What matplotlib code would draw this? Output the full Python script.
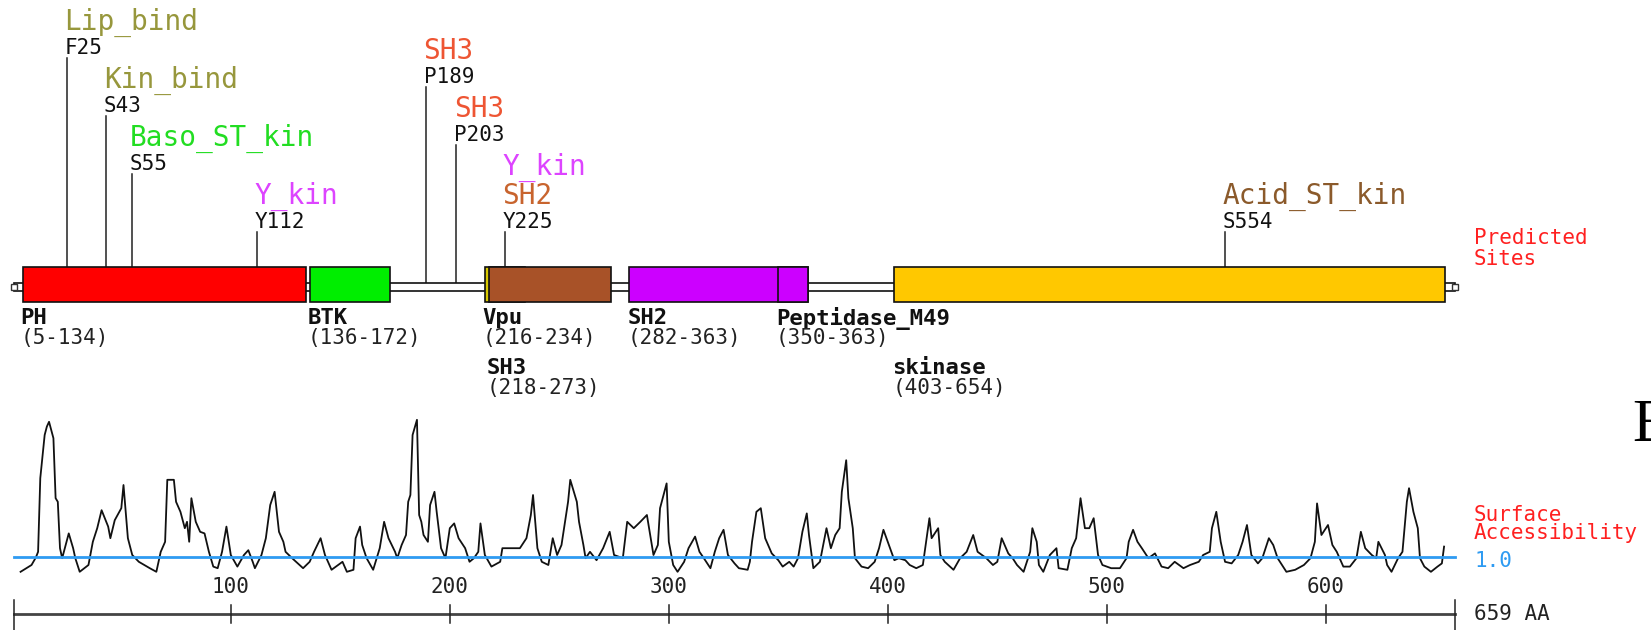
import matplotlib.pyplot as plt
from matplotlib.patches import Rectangle

plt.rcParams['font.family'] = ['DejaVu Sans Mono', 'DejaVu Sans']

PROT_LEN = 659

# domains (residue ranges)
dom_names = ["PH", "BTK", "Vpu", "SH3", "SH2", "Peptidase_M49", "skinase"]
dom_start = [5, 136, 216, 218, 282, 350, 403]
dom_end = [134, 172, 234, 273, 363, 363, 654]

# predicted motif sites
site_pos = [25, 43, 55, 112, 189, 203, 225, 554]
site_res = ["F25", "S43", "S55", "Y112", "P189", "P203", "Y225", "S554"]
site_groups = [["Lip_bind"], ["Kin_bind"], ["Baso_ST_kin"], ["Y_kin"],
               ["SH3"], ["SH3"], ["Y_kin", "SH2"], ["Acid_ST_kin"]]

# surface accessibility profile
acc_pos = [4, 9, 11, 12, 13, 15, 16, 17, 19, 20, 21, 22, 23, 25, 26, 28, 29, 31, 35, 37,
           39, 41, 44, 45, 47, 50, 51, 53, 55, 58, 63, 66, 68, 70, 71, 74, 75, 77, 79, 80,
           81, 82, 84, 86, 88, 90, 92, 94, 96, 98, 100, 103, 106, 108, 110, 111, 114, 116, 118, 120,
           122, 124, 125, 128, 133, 136, 138, 141, 143, 146, 149, 151, 153, 156, 157, 159, 160, 162, 165,
           168, 170, 172, 175, 176, 178, 180, 181, 182, 183, 185, 186, 187, 188, 190, 191, 193, 194, 196, 198,
           200, 202, 204, 207, 209, 211, 213, 214, 216, 219, 223, 224, 228, 232, 235, 237, 238, 240, 242, 245,
           247, 249, 251, 254, 255, 258, 259, 261, 262, 264, 267, 270, 273, 275, 279, 281, 284, 287, 290, 293,
           295, 296, 299, 300, 302, 304, 307, 309, 312, 314, 316, 319, 321, 323, 325, 327, 330, 332,
           336, 337, 338, 340, 342, 344, 346, 347, 350, 352, 355, 357, 359, 361, 363, 364, 366, 369, 372, 374,
           376, 378, 379, 381, 382, 384, 385, 388, 391, 394, 396, 398, 401, 403, 405, 408, 410, 413, 416, 419,
           420, 423, 424, 426, 430, 433, 436, 439, 441, 445, 448, 450, 452, 455, 457, 459, 462, 465, 466, 468,
           469, 471, 474, 477, 478, 482, 484, 486, 488, 490, 492, 494, 496, 498,
           502, 506, 509, 510, 512, 514, 516, 519, 522, 525, 528, 531, 535, 538, 542, 544, 547, 548, 550, 552,
           554, 557, 560, 562, 564, 566, 569, 571, 573, 574, 576, 578, 582, 586, 590, 593, 595, 596, 598, 601,
           603, 605, 608, 611, 614, 616, 618, 621, 623, 624, 627, 628, 630, 633, 635, 637, 638, 640, 642, 643,
           645, 648, 651, 653, 654]
acc_val = [0.63, 0.80, 0.99, 1.13, 2.97, 4.05, 4.26, 4.38, 3.97, 2.47, 2.38, 1.22, 0.97, 1.38, 1.59, 1.22, 0.97, 0.63, 0.80, 1.38,
           1.72, 2.17, 1.76, 1.47, 1.92, 2.22, 2.80, 1.47, 1.05, 0.88, 0.72, 0.63, 1.13, 1.38, 2.93, 2.93, 2.38, 2.13, 1.72, 1.88,
           1.38, 2.47, 1.88, 1.63, 1.59, 1.13, 0.76, 0.72, 1.13, 1.76, 1.05, 0.76, 1.05, 1.17, 0.88, 0.72, 1.05, 1.47, 2.30, 2.63,
           1.63, 1.38, 1.13, 0.97, 0.72, 0.88, 1.13, 1.47, 1.05, 0.68, 0.80, 0.88, 0.63, 0.68, 1.47, 1.76, 1.30, 0.97, 0.68,
           1.22, 1.88, 1.47, 1.13, 0.97, 1.30, 1.55, 2.38, 2.55, 4.05, 4.43, 2.05, 1.88, 1.55, 1.38, 2.30, 2.63, 2.13, 1.22, 0.97,
           1.72, 1.84, 1.47, 1.22, 0.88, 0.97, 1.13, 1.84, 1.05, 0.76, 0.88, 1.22, 1.22, 1.22, 1.47, 2.05, 2.55, 1.22, 0.88, 0.80,
           1.47, 1.05, 1.30, 2.38, 2.93, 2.38, 1.88, 1.30, 0.97, 1.13, 0.92, 1.22, 1.63, 1.05, 0.97, 1.88, 1.72, 1.88, 2.05, 1.05,
           1.30, 2.22, 2.84, 1.38, 0.80, 0.63, 0.88, 1.22, 1.51, 1.13, 0.97, 0.72, 1.13, 1.47, 1.68, 1.05, 0.84, 0.72,
           0.68, 0.88, 1.38, 2.13, 2.22, 1.47, 1.22, 1.09, 0.92, 0.76, 0.88, 0.76, 0.97, 1.63, 2.09, 1.55, 0.72, 0.88, 1.72, 1.22,
           1.55, 1.72, 2.63, 3.42, 2.47, 1.72, 0.97, 0.76, 0.72, 0.88, 1.22, 1.68, 1.22, 0.92, 0.97, 0.92, 0.80, 0.72, 0.80, 1.97,
           1.47, 1.72, 1.05, 0.88, 0.68, 0.97, 1.13, 1.55, 1.13, 0.97, 0.80, 0.88, 1.47, 1.09, 0.97, 0.80, 0.63, 1.13, 1.72, 1.38,
           0.80, 0.63, 1.05, 1.22, 0.72, 0.68, 1.22, 1.47, 2.47, 1.72, 1.72, 1.97, 1.05, 0.80,
           0.72, 0.72, 0.97, 1.38, 1.68, 1.38, 1.22, 0.97, 1.09, 0.76, 0.72, 0.88, 0.72, 0.80, 0.88, 1.05, 1.13, 1.72, 2.13, 1.38,
           0.88, 0.84, 1.05, 1.38, 1.80, 1.05, 0.84, 0.97, 1.30, 1.47, 1.30, 0.97, 0.63, 0.68, 0.80, 0.97, 1.38, 2.34, 1.55, 1.80,
           1.30, 1.13, 0.76, 0.76, 0.97, 1.63, 1.22, 1.05, 0.97, 1.38, 1.05, 0.80, 0.63, 0.97, 1.13, 2.38, 2.72, 2.13, 1.72, 0.97,
           0.76, 0.63, 0.76, 0.84, 1.26]
acc_threshold = 1.0

tick_vals = [100, 200, 300, 400, 500, 600]

DOM_COLORS = {"PH": "#ff0000", "BTK": "#00ee00", "Vpu": "#d8c800", "SH3": "#a85228",
              "SH2": "#cc00ff", "Peptidase_M49": "#cc00ff", "skinase": "#ffc800"}
GROUP_COLORS = {"Lip_bind": "#97973c", "Kin_bind": "#97973c", "Baso_ST_kin": "#22dd22",
                "Y_kin": "#dd44ff", "SH3": "#ee5533", "SH2": "#c8642e", "Acid_ST_kin": "#8b5a2b"}

W, H = 1651, 630
PX = 2.19      # pixels per residue
X0 = 14        # pixel column of residue 1

BOX_TOP, BOX_BOT = 267, 302
BB_TOP, BB_BOT = 283, 291
ROW0, ROW_STEP, LAST_ROW = 22, 29, 7
NAME_CHAR, RES_CHAR = 17, 12.8   # approx glyph advance in px

fig = plt.figure(figsize=(W / 100, H / 100), dpi=100)
ax = fig.add_axes([0, 0, 1, 1])
ax.set_xlim(1 - X0 / PX, 1 + (W - X0) / PX)
ax.set_ylim(H, 0)
ax.axis('off')

# backbone
ax.add_patch(Rectangle((1, BB_TOP), PROT_LEN - 1, BB_BOT - BB_TOP,
                       fc='white', ec='#111111', lw=1.2, zorder=1))
ax.plot([1, PROT_LEN], [(BB_TOP + BB_BOT) / 2] * 2, ls='none', marker='s',
        ms=5, mfc='white', mec='#333333', mew=1, zorder=1)

# domain boxes and their labels
row_end = []
for name, s, e in zip(dom_names, dom_start, dom_end):
    ax.add_patch(Rectangle((s, BOX_TOP), e + 0.5 - s, BOX_BOT - BOX_TOP,
                           fc=DOM_COLORS[name], ec='#111111', lw=1.2, zorder=2))
    coord = "(%d-%d)" % (s, e)
    width = max(len(name) * 15, len(coord) * RES_CHAR) / PX
    row = 0
    while row < len(row_end) and row_end[row] >= s:
        row += 1
    if row == len(row_end):
        row_end.append(0)
    row_end[row] = s + width
    ax.text(s - 1, 318 + 50 * row, name, fontsize=16, fontweight='bold',
            ha='left', va='center', color='#111111')
    ax.text(s - 1, 338 + 50 * row, coord, fontsize=15,
            ha='left', va='center', color='#222222')

# site labels, stacked from right to left so they do not collide
placed = []
order = sorted(range(len(site_pos)), key=lambda i: -site_pos[i])
for i in order:
    pos, res, groups = site_pos[i], site_res[i], site_groups[i]
    ext = pos + max(max(len(g) for g in groups) * NAME_CHAR, len(res) * RES_CHAR) / PX
    bottom = LAST_ROW
    for p_pos, p_top in placed:
        if p_pos < ext:
            bottom = min(bottom, p_top - 1)
    top = bottom - len(groups)
    placed.append((pos, top))

    for k, g in enumerate(groups):
        ax.text(pos - 1, ROW0 + ROW_STEP * (top + k), g, fontsize=20,
                ha='left', va='center', color=GROUP_COLORS[g])
    y_res = ROW0 + ROW_STEP * bottom - 3
    ax.text(pos - 1, y_res, res, fontsize=15, ha='left', va='center', color='#111111')

    inside = any(s <= pos <= e for s, e in zip(dom_start, dom_end))
    ax.plot([pos, pos], [y_res + 10, BOX_TOP if inside else BB_TOP],
            color='#222222', lw=1.1, zorder=0)

lab_x = PROT_LEN + 19 / PX
ax.text(lab_x, 238, "Predicted", fontsize=15, color='#ff2020', ha='left', va='center')
ax.text(lab_x, 259, "Sites", fontsize=15, color='#ff2020', ha='left', va='center')
ax.text(lab_x, 515, "Surface", fontsize=15, color='#ff2020', ha='left', va='center')
ax.text(lab_x, 533, "Accessibility", fontsize=15, color='#ff2020', ha='left', va='center')
ax.text(lab_x, 561, "%.1f" % acc_threshold, fontsize=15, color='#2e9bf2', ha='left', va='center')

# residue scale
AXIS_Y = 614
ax.plot([1, PROT_LEN], [AXIS_Y, AXIS_Y], color='#444444', lw=2)
for t in tick_vals:
    ax.plot([t, t], [AXIS_Y - 9, AXIS_Y + 9], color='#222222', lw=1.1)
    ax.text(t, AXIS_Y - 27, str(t), fontsize=15, ha='center', va='center', color='#222222')
for t in (1, PROT_LEN):
    ax.plot([t, t], [AXIS_Y - 14, AXIS_Y + 16], color='#222222', lw=1.1)
ax.text(lab_x, AXIS_Y, "%d AA" % PROT_LEN, fontsize=15, ha='left', va='center', color='#222222')

# accessibility profile
pax = fig.add_axes([0, (H - 600) / H, 1, 200 / H])
pax.set_xlim(ax.get_xlim())
pax.set_ylim(-0.075, 4.925)
pax.axis('off')
pax.patch.set_alpha(0)
pax.plot(acc_pos, acc_val, color='#111111', lw=1.3, zorder=2)
pax.plot([1, PROT_LEN], [acc_threshold, acc_threshold], color='#2e9bf2', lw=2, zorder=3)

fig.text(1632 / W, 1 - 426 / H, "E", fontsize=44, family='Liberation Serif',
         ha='left', va='center', color='black')

fig.savefig('out.png', dpi=100)
